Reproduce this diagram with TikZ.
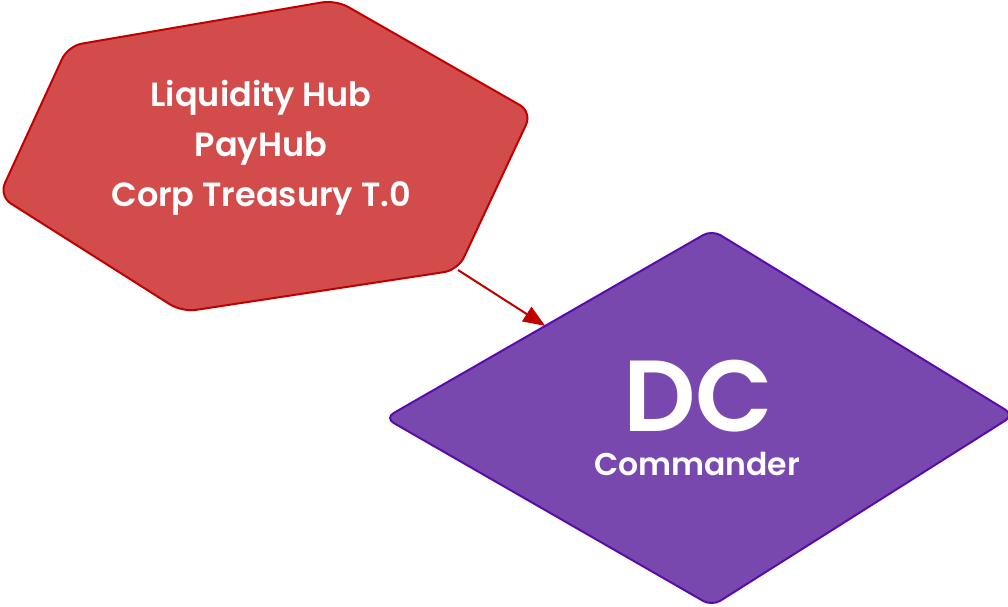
\documentclass[tikz,border=0pt]{standalone}
\usepackage{fontspec}
\newfontfamily\hubfont{Poppins SemiBold}
\usetikzlibrary{calc,positioning,arrows.meta}
\definecolor{hubred}{RGB}{210,76,76}
\definecolor{hubredline}{RGB}{192,0,0}
\definecolor{dcpurple}{RGB}{120,72,174}
\definecolor{dcpurpleline}{RGB}{90,12,170}
\tikzset{
	hexa/.style={fill=hubred,draw=hubredline,line width=2pt,rounded corners=14pt},
	rhomb/.style={fill=dcpurple,draw=dcpurpleline,line width=2pt,rounded corners=10pt},
	lbl/.style={text=white,font=\hubfont,align=center,inner sep=0pt},
	link/.style={draw=hubredline,line width=2pt,-{Triangle[length=22pt,width=17pt]}},
}

\begin{document}
\begin{tikzpicture}[x=1pt,y=-1pt]
		\useasboundingbox (0,0) rectangle (1008,606);
		\coordinate (h1) at (68,46);
		\coordinate (h2) at (336,0);
		\coordinate (h3) at (532,112);
		\coordinate (h4) at (458,270);
		\coordinate (h5) at (182,312);
		\coordinate (h6) at (-1,196);
		\coordinate (d1) at (712,230);
		\coordinate (d2) at (1014,415);
		\coordinate (d3) at (712,606);
		\coordinate (d4) at (385,418);
		\draw[hexa] (h1) -- (h2) -- (h3) -- (h4) -- (h5) -- (h6) -- cycle;
		\draw[rhomb] (d1) -- (d2) -- (d3) -- (d4) -- cycle;
		\node(1)[lbl,font=\hubfont\fontsize{33.5}{50}\selectfont] at (261,148) {Liquidity Hub\\PayHub\\Corp Treasury T.0};
		\node(2)[lbl,anchor=base,text depth=0pt,font=\hubfont\fontsize{101}{101}\selectfont] at (698,431) {DC};
		\node(3)[lbl,anchor=base,text height=22pt,text depth=0pt,font=\hubfont\fontsize{31.5}{31.5}\selectfont] at (697,475) {Commander};
		\path[link] (h4) -- ($(d4)!0.49!(d1)$);
	\end{tikzpicture}
\end{document}
